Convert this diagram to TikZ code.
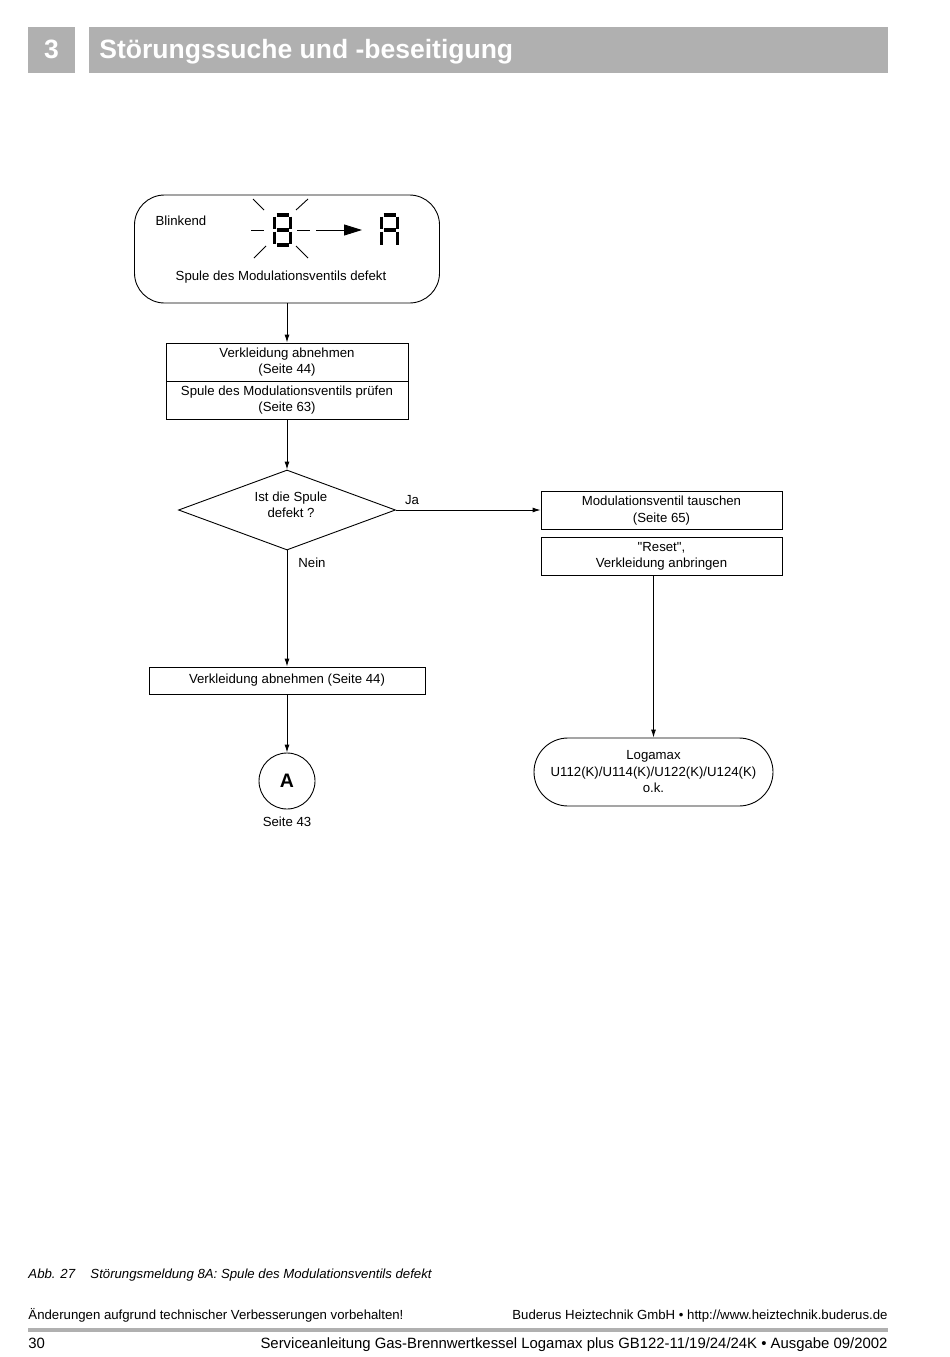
\documentclass[tikz,border=0pt]{standalone}
\usepackage{fontspec}
\setmainfont{Liberation Sans}
\usetikzlibrary{shapes.geometric,arrows.meta}
\definecolor{barGray}{RGB}{176,176,176}
\newcommand{\fsnorm}{\fontsize{13.2}{16.5}\selectfont}
\newcommand{\fsfoot}{\fontsize{14.9}{17}\selectfont}

\begin{document}
\begin{tikzpicture}[x=1pt,y=-1pt,line width=0.9pt]
        \tikzstyle{task}=[rectangle,draw=black,align=center,inner sep=0pt,minimum width=242pt,minimum height=38pt,font=\fsnorm]
        \tikzstyle{label}=[inner sep=0pt,font=\fsnorm]
        \tikzstyle{edge}=[draw,-{Latex[length=8pt,width=5pt]}]
        \tikzstyle{segm}=[line width=3.2pt]
       \useasboundingbox (0,0) rectangle (950,1357);
       % header
       \fill[barGray] (28,27) rectangle (75,73);
       \fill[barGray] (89,27) rectangle (888,73);
       \node [inner sep=0pt,text=white,font=\fontsize{26.5}{30}\bfseries\selectfont] (chapno) at (51.5,49) {3};
       \node [anchor=base west,inner sep=0pt,text=white,font=\fontsize{26.5}{30}\bfseries\selectfont] (title) at (99,58) {Störungssuche und -beseitigung};
       % flow chart
       \begin{scope}
         \node [rectangle,draw,rounded corners=30pt,minimum width=305pt,minimum height=108pt] (msg) at (287,249) {};
         \node [label] (blink) at (181,221) {Blinkend};
         \node [label] (msgtxt) at (281,277) {Spule des Modulationsventils defekt};
         \node [task] (chk1) at (287,362) {Verkleidung abnehmen\\(Seite 44)};
         \node [task] (chk2) at (287,400) {Spule des Modulationsventils prüfen\\(Seite 63)};
         \node [diamond,draw,aspect=2.7125,inner sep=0pt,minimum width=217pt,minimum height=80pt] (quest) at (287,510) {};
         \node [label,align=center] (questtxt) at (291,505) {Ist die Spule\\defekt ?};
         \node [task,minimum width=241pt] (swap) at (661.5,510.5) {Modulationsventil tauschen\\(Seite 65)};
         \node [task,minimum width=241pt] (reset) at (661.5,556.5) {\textquotedbl Reset\textquotedbl,\\Verkleidung anbringen};
         \node [rectangle,draw,rounded corners=34pt,align=center,minimum width=239pt,minimum height=68pt,inner sep=0pt,font=\fsnorm] (done) at (653.5,772) {Logamax\\U112(K)/U114(K)/U122(K)/U124(K)\\o.k.};
         \node [task,minimum width=276pt,minimum height=27pt] (open) at (287,680.5) {Verkleidung abnehmen (Seite 44)};
         \node [circle,draw,minimum size=56pt,inner sep=0pt,font=\fontsize{19.5}{22}\bfseries\selectfont] (conA) at (287,781) {A};
         \node [label] (conApg) at (287,822) {Seite 43};
         \node [label] (yes) at (412,500) {Ja};
         \node [label] (no) at (312,563) {Nein};
         \path[edge] (msg.south) -- (chk1.north);
         \path[edge] (chk2.south) -- (quest.north);
         \path[edge] (quest.east) -- (quest.east -| swap.west);
         \path[edge] (quest.south) -- (open.north);
         \path[edge] (open.south) -- (conA.north);
         \path[edge] (reset.south -| done.north) -- (done.north);
        \end{scope}
       % blinking display 8 -> A
       \begin{scope}[shift={(274.5,215)}]
         \foreach \sx/\sy/\ex/\ey in {2/0/14/0,0/1.5/0/13.5,16/1.5/16/13.5,2/15/14/15,0/16.5/0/28.5,16/16.5/16/28.5,2/30/14/30}
           \draw[segm] (\sx,\sy) -- (\ex,\ey);
       \end{scope}
       \begin{scope}[shift={(381.5,215)}]
         \foreach \sx/\sy/\ex/\ey in {2/0/14/0,0/1.5/0/13.5,16/1.5/16/13.5,2/15/14/15,0/16.5/0/30,16/16.5/16/30}
           \draw[segm] (\sx,\sy) -- (\ex,\ey);
       \end{scope}
       \foreach \sx/\sy/\ex/\ey in {251/230/264/230,297/230/310/230,253/199/264/210,308/199/296/210,254/258/266/246,296/246/308/258}
         \draw (\sx,\sy) -- (\ex,\ey);
       \draw[-{Triangle[length=18pt,width=11pt]}] (316,230) -- (362,230);
       % footer
       \node [anchor=base west,inner sep=0pt,font=\fsnorm\itshape] (figno) at (28,1278) {Abb. 27};
       \node [anchor=base west,inner sep=0pt,font=\fsnorm\itshape] (figcap) at (90,1278) {Störungsmeldung 8A: Spule des Modulationsventils defekt};
       \node [anchor=base west,inner sep=0pt,font=\fsnorm] (note) at (28,1319) {Änderungen aufgrund technischer Verbesserungen vorbehalten!};
       \node [anchor=base east,inner sep=0pt,font=\fsnorm] (firm) at (888,1319) {Buderus Heiztechnik GmbH • http://www.heiztechnik.buderus.de};
       \fill[barGray] (28,1328) rectangle (888,1332);
       \node [anchor=base west,inner sep=0pt,font=\fsfoot] (pageno) at (28,1348) {30};
       \node [anchor=base east,inner sep=0pt,font=\fsfoot] (manual) at (888,1348) {Serviceanleitung Gas-Brennwertkessel Logamax plus GB122-11/19/24/24K • Ausgabe 09/2002};
      \end{tikzpicture}
\end{document}
